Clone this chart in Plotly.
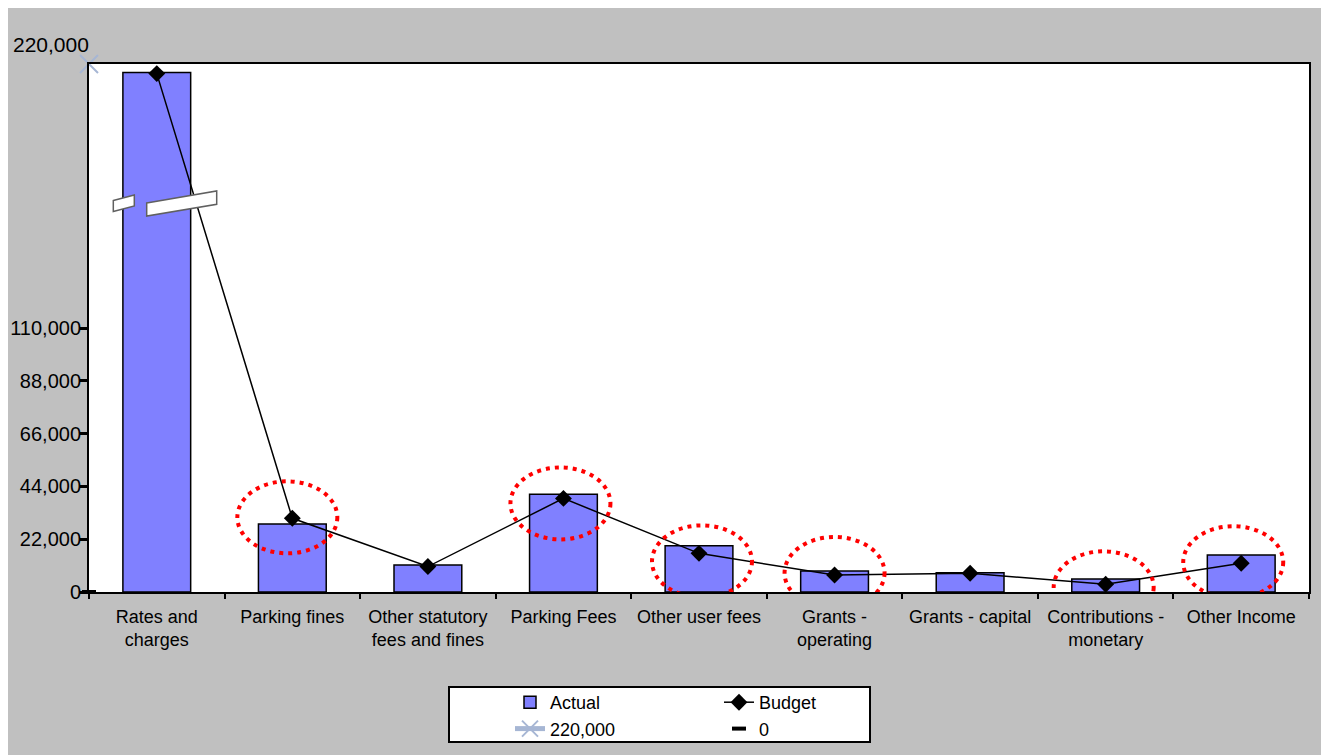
import plotly.graph_objects as go

# ---------------- data ----------------
categories = ["Rates and<br>charges", "Parking fines", "Other statutory<br>fees and fines",
              "Parking Fees", "Other user fees", "Grants -<br>operating",
              "Grants - capital", "Contributions -<br>monetary", "Other Income"]
actual = [216500, 28300, 11200, 40700, 19300, 8700, 8000, 5400, 15400]
budget = [216000, 30700, 10600, 39000, 16100, 7100, 7800, 3200, 12000]
top_label_value = [220000]
zero_value = [0]
ytick_vals = [0, 22000, 44000, 66000, 88000, 110000]
ytick_text = ["0", "22,000", "44,000", "66,000", "88,000", "110,000"]
highlighted = [1, 3, 4, 5, 7, 8]  # categories circled in red

# ---------------- geometry helpers ----------------
# the page body adds an 8px offset, so the figure is sized to fill the rest
OFF = 8
W, H = 1329 - OFF, 755 - OFF
L, T = 89 - OFF, 64 - OFF
R, B = W - (1309 - OFF), H - (592 - OFF)
PW, PH = W - L - R, H - T - B


def px(xp):
    """page pixel x -> paper fraction"""
    return (xp - OFF - L) / PW


def py(yp):
    """page pixel y -> paper fraction"""
    return (H - B - (yp - OFF)) / PH


fig = go.Figure()

fig.add_trace(go.Bar(
    x=categories, y=actual, name="Actual",
    marker=dict(color="#8080FF", line=dict(color="black", width=1.5)),
    legend="legend",
))
fig.add_trace(go.Scatter(
    x=categories, y=budget, name="Budget", mode="lines+markers",
    line=dict(color="black", width=1.5),
    marker=dict(symbol="diamond", size=13, color="black"),
    legend="legend2",
))
fig.add_trace(go.Scatter(
    x=[-0.5], y=top_label_value, name=f"{top_label_value[0]:,}", mode="lines+markers",
    line=dict(color="#A6B6D4", width=5),
    marker=dict(symbol="x-thin", size=18, color="#A6B6D4", line=dict(color="#A6B6D4", width=2)),
    xaxis="x2", yaxis="y", cliponaxis=False,
    legend="legend",
))
fig.add_trace(go.Scatter(
    x=[-0.5], y=zero_value, name=f"{zero_value[0]}", mode="markers",
    marker=dict(symbol="line-ew", size=10, color="black", line=dict(color="black", width=4)),
    xaxis="x2", yaxis="y", cliponaxis=False,
    legend="legend2",
))

shapes = []
# outer grey background (white slivers around the edge)
shapes.append(dict(type="rect", xref="paper", yref="paper", layer="below",
                   x0=px(7), x1=px(1325), y0=py(760), y1=py(5),
                   fillcolor="#C0C0C0", line=dict(width=0)))
# white plot area
shapes.append(dict(type="rect", xref="paper", yref="paper", layer="below",
                   x0=0, x1=1, y0=0, y1=1, fillcolor="white", line=dict(width=0)))
# legend box
shapes.append(dict(type="rect", xref="paper", yref="paper", layer="below",
                   x0=px(449), x1=px(870), y0=py(742), y1=py(687),
                   fillcolor="white", line=dict(color="black", width=2)))


def poly(pts):
    return "M " + " L ".join(f"{px(a):.5f},{py(b):.5f}" for a, b in pts) + " Z"


# axis break marks
for pts in ([(113.3, 200.5), (134.3, 195), (134.3, 206), (113.3, 211.5)],
            [(146.7, 203), (216.7, 191), (216.7, 204.3), (146.7, 216)]):
    shapes.append(dict(type="path", xref="paper", yref="paper", layer="above",
                       path=poly(pts), fillcolor="white",
                       line=dict(color="#606060", width=1.5)))

# red dotted circles (pixel-sized, anchored to budget points)
offsets = {1: (-5, 1), 3: (-3, -5), 4: (3, -8), 5: (0, 2), 7: (-2, -3), 8: (-8, 1)}
for i in highlighted:
    dx, dy = offsets[i]
    shapes.append(dict(type="circle", xref="x2", yref="y", layer="above",
                       xsizemode="pixel", ysizemode="pixel",
                       xanchor=i, yanchor=budget[i],
                       x0=dx - 50, x1=dx + 50, y0=dy - 36, y1=dy + 36,
                       line=dict(color="#FF0000", width=4, dash="4px,5px")))

font = dict(family="Liberation Sans, Arial", color="black")

annotations = [dict(xref="x2", yref="y", x=-0.5, y=top_label_value[0],
                    text=f"{top_label_value[0]:,}", showarrow=False,
                    xanchor="right", yanchor="middle", xshift=2, yshift=20,
                    font=dict(size=21, **font))]

fig.update_layout(
    width=W, height=H,
    margin=dict(l=L, r=R, t=T, b=B, pad=0, autoexpand=False),
    paper_bgcolor="white", plot_bgcolor="rgba(0,0,0,0)",
    font=dict(family="Liberation Sans, Arial", size=18, color="black"),
    bargap=0.5,
    shapes=shapes,
    annotations=annotations,
    xaxis=dict(type="category", range=[-0.5, 8.5], tickson="boundaries",
               ticks="outside", ticklen=5, tickwidth=2, tickcolor="black",
               showline=True, linecolor="black", linewidth=2, mirror=True,
               showgrid=False, tickfont=dict(size=18, **font), ticklabelstandoff=7,
               automargin=False),
    xaxis2=dict(overlaying="x", range=[-0.5, 8.5], visible=False, automargin=False),
    yaxis=dict(range=[0, 220000], tickvals=ytick_vals, ticktext=ytick_text,
               ticks="outside", ticklen=7, tickwidth=3, tickcolor="black",
               showline=True, linecolor="black", linewidth=2, mirror=True,
               showgrid=False, zeroline=False, tickfont=dict(size=20, **font),
               ticklabelstandoff=-5, automargin=False),
    yaxis2=dict(overlaying="y", range=[0, 220000], tickvals=ytick_vals,
                ticks="inside", ticklen=8, tickwidth=3, tickcolor="black",
                showticklabels=False, showgrid=False, zeroline=False, showline=False,
                automargin=False),
    legend=dict(x=px(510), y=py(684), xanchor="left", yanchor="top",
                bgcolor="rgba(0,0,0,0)", font=dict(size=18, **font),
                tracegroupgap=0, itemwidth=30),
    legend2=dict(x=px(719), y=py(684), xanchor="left", yanchor="top",
                 bgcolor="rgba(0,0,0,0)", font=dict(size=18, **font),
                 tracegroupgap=0, itemwidth=30),
    showlegend=True,
)

fig.write_html("out.html")
